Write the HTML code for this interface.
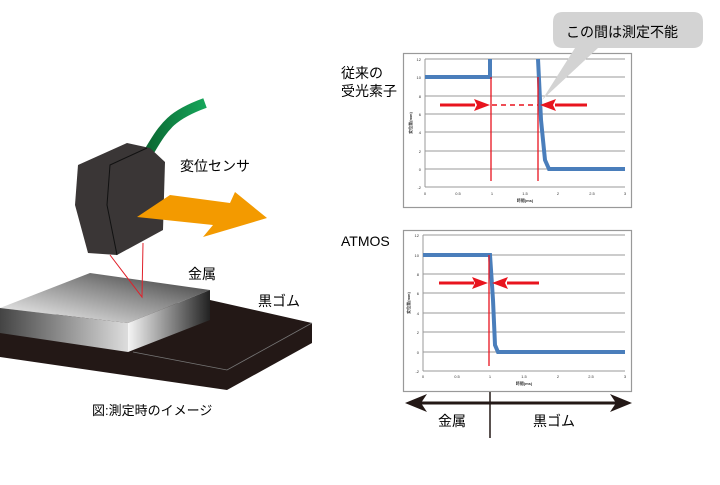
<!DOCTYPE html>
<html><head><meta charset="utf-8"><style>
body{margin:0;background:#fff;width:720px;height:480px;overflow:hidden}
text{font-family:"Liberation Sans","Noto Sans CJK JP",sans-serif}
</style></head><body>
<svg width="720" height="480" viewBox="0 0 720 480" xmlns="http://www.w3.org/2000/svg">
<defs>
<linearGradient id="mt" x1="0" y1="1" x2="1" y2="0"><stop offset="0" stop-color="#fafafa"/><stop offset="0.6" stop-color="#888"/><stop offset="1" stop-color="#333"/></linearGradient>
<linearGradient id="mf" x1="0" y1="0" x2="1" y2="0"><stop offset="0" stop-color="#444"/><stop offset="1" stop-color="#ddd"/></linearGradient>
<linearGradient id="ms" x1="0" y1="0" x2="1" y2="0"><stop offset="0" stop-color="#f5f5f5"/><stop offset="1" stop-color="#222"/></linearGradient>
<linearGradient id="gc" x1="0" y1="0" x2="1" y2="0"><stop offset="0" stop-color="#0b6b34"/><stop offset="1" stop-color="#16a55a"/></linearGradient>
</defs>
<polygon points="0,320 210,300 312,323 312,343 227,390 0,357" fill="#231816"/>
<polyline points="133,352 227,370 312,323" fill="none" stroke="#777" stroke-width="0.8"/>
<polygon points="0,308 90,273 210,290 128,323" fill="url(#mt)"/>
<polygon points="0,308 128,323 128,352 0,333" fill="url(#mf)"/>
<polygon points="128,323 210,290 210,320 128,352" fill="url(#ms)"/>
<polyline points="110,255 142,297 143,243" fill="none" stroke="#e0202a" stroke-width="1"/>
<path d="M150,150 C165,125 172,115 205,103" fill="none" stroke="url(#gc)" stroke-width="10"/>
<polygon points="78,165 127,143 150,148 165,162 163,230 117,255 88,253 75,205" fill="#3a3636"/>
<polyline points="147,148 110,165 107,205 117,255" fill="none" stroke="#111" stroke-width="1"/>
<polygon points="137,217 170,195 230,203 235,192 267,218 203,237 213,225" fill="#f39a00"/>
<text x="180" y="171" font-size="14">変位センサ</text>
<text x="188" y="279" font-size="14">金属</text>
<text x="258" y="306" font-size="14">黒ゴム</text>
<text x="92" y="415" font-size="13">図:測定時のイメージ</text>

<text x="341" y="78" font-size="14">従来の</text>
<text x="341" y="96" font-size="14">受光素子</text>
<rect x="403.5" y="53.5" width="228" height="154" fill="#fff" stroke="#999" stroke-width="1.2"/>
<g stroke="#999" stroke-width="1">
<line x1="425" y1="59" x2="625" y2="59"/><line x1="425" y1="77" x2="625" y2="77"/><line x1="425" y1="96" x2="625" y2="96"/><line x1="425" y1="114" x2="625" y2="114"/><line x1="425" y1="132" x2="625" y2="132"/><line x1="425" y1="151" x2="625" y2="151"/><line x1="425" y1="169" x2="625" y2="169"/><line x1="425" y1="187" x2="625" y2="187"/><line x1="425" y1="59" x2="425" y2="187"/>
</g>
<g font-size="4" fill="#333" text-anchor="end"><text x="421" y="61">12</text><text x="421" y="79">10</text><text x="421" y="98">8</text><text x="421" y="116">6</text><text x="421" y="134">4</text><text x="421" y="153">2</text><text x="421" y="171">0</text><text x="421" y="189">-2</text></g>
<text x="412" y="123" font-size="4" font-weight="bold" fill="#333" transform="rotate(-90 412 123)" text-anchor="middle">変位量(mm)</text>
<g font-size="4" fill="#333" text-anchor="middle"><text x="425" y="195">0</text><text x="458" y="195">0.5</text><text x="492" y="195">1</text><text x="525" y="195">1.5</text><text x="558" y="195">2</text><text x="592" y="195">2.5</text><text x="625" y="195">3</text><text x="525" y="202" font-weight="bold">時間(ms)</text></g>
<polyline points="425,77 490,77 490,59" fill="none" stroke="#4a7ebb" stroke-width="4"/>
<polyline points="538,59 541,120 545,160 549,169 625,169" fill="none" stroke="#4a7ebb" stroke-width="4"/>
<g stroke="#e8141e" stroke-width="1.3"><line x1="491" y1="77" x2="491" y2="181"/><line x1="538" y1="77" x2="538" y2="181"/></g>
<line x1="440" y1="105" x2="475" y2="105" stroke="#e8141e" stroke-width="3"/>
<polygon points="490,105 474,99 477,105 474,111" fill="#e8141e"/>
<line x1="492" y1="105" x2="538" y2="105" stroke="#e8141e" stroke-width="1.5" stroke-dasharray="5,4"/>
<line x1="555" y1="105" x2="587" y2="105" stroke="#e8141e" stroke-width="3"/>
<polygon points="540,105 556,99 553,105 556,111" fill="#e8141e"/>
<path d="M563,12 H693 Q703,12 703,22 V38 Q703,48 693,48 H598 L542,100 L575,48 H563 Q553,48 553,38 V22 Q553,12 563,12 Z" fill="#d3d3d3"/>
<text x="566" y="37" font-size="14">この間は測定不能</text>

<text x="341" y="246" font-size="14">ATMOS</text>
<rect x="403.5" y="230.5" width="228" height="161" fill="#fff" stroke="#999" stroke-width="1.2"/>
<g stroke="#999" stroke-width="1">
<line x1="423" y1="235" x2="625" y2="235"/><line x1="423" y1="255" x2="625" y2="255"/><line x1="423" y1="274" x2="625" y2="274"/><line x1="423" y1="293" x2="625" y2="293"/><line x1="423" y1="313" x2="625" y2="313"/><line x1="423" y1="332" x2="625" y2="332"/><line x1="423" y1="352" x2="625" y2="352"/><line x1="423" y1="371" x2="625" y2="371"/><line x1="423" y1="235" x2="423" y2="371"/>
</g>
<g font-size="4" fill="#333" text-anchor="end"><text x="419" y="237">12</text><text x="419" y="257">10</text><text x="419" y="276">8</text><text x="419" y="295">6</text><text x="419" y="315">4</text><text x="419" y="334">2</text><text x="419" y="354">0</text><text x="419" y="373">-2</text></g>
<text x="410" y="303" font-size="4" font-weight="bold" fill="#333" transform="rotate(-90 410 303)" text-anchor="middle">変位量(mm)</text>
<g font-size="4" fill="#333" text-anchor="middle"><text x="423" y="378">0</text><text x="457" y="378">0.5</text><text x="490" y="378">1</text><text x="524" y="378">1.5</text><text x="558" y="378">2</text><text x="591" y="378">2.5</text><text x="625" y="378">3</text><text x="524" y="385" font-weight="bold">時間(ms)</text></g>
<polyline points="423,255 490,255 493,300 495,345 498,352 625,352" fill="none" stroke="#4a7ebb" stroke-width="4"/>
<line x1="489" y1="255" x2="489" y2="366" stroke="#e8141e" stroke-width="1.3"/>
<line x1="439" y1="283" x2="474" y2="283" stroke="#e8141e" stroke-width="3"/>
<polygon points="488,283 472,277 475,283 472,289" fill="#e8141e"/>
<line x1="507" y1="283" x2="539" y2="283" stroke="#e8141e" stroke-width="3"/>
<polygon points="492,283 508,277 505,283 508,289" fill="#e8141e"/>
<line x1="415" y1="403" x2="622" y2="403" stroke="#231816" stroke-width="3"/>
<polygon points="405,403 427,394 421,403 427,412" fill="#231816"/>
<polygon points="632,403 610,394 616,403 610,412" fill="#231816"/>
<line x1="490" y1="392" x2="490" y2="438" stroke="#231816" stroke-width="1.5"/>
<text x="438" y="426" font-size="14">金属</text>
<text x="533" y="426" font-size="14">黒ゴム</text>
</svg>
</body></html>
